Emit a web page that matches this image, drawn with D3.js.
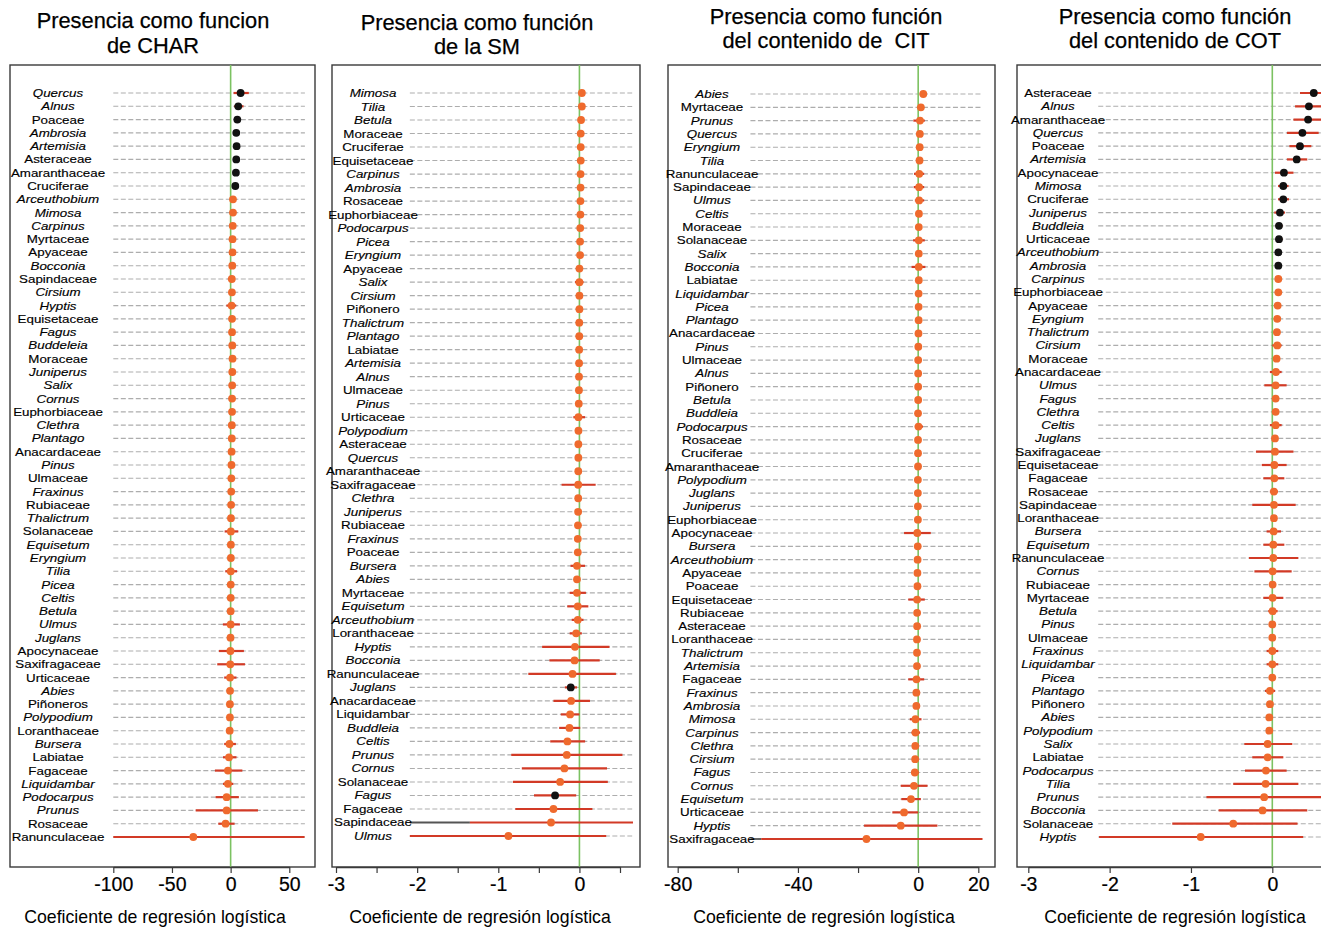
<!DOCTYPE html>
<html>
<head>
<meta charset="utf-8">
<script src="https://cdn.jsdelivr.net/npm/d3@7"></script>
<style>
  html, body { margin: 0; padding: 0; background: #fff; }
  svg { display: block; font-family: "Liberation Sans", Arial, Helvetica, sans-serif; }
  text.title { white-space: pre; }
</style>
</head>
<body>
<svg id="chart" width="1321" height="928"></svg>
<script>
// ---- Panel titles ----
const titleLines = [
  ["Presencia como funcion", "de CHAR"],
  ["Presencia como función", "de la SM"],
  ["Presencia como función", "del contenido de  CIT"],
  ["Presencia como función", "del contenido de COT"]
];
const axisTitle = "Coeficiente de regresión logística";

// ---- CHAR ----
const charTaxa = ["Quercus","Alnus","Poaceae","Ambrosia","Artemisia","Asteraceae","Amaranthaceae","Cruciferae","Arceuthobium","Mimosa","Carpinus","Myrtaceae","Apyaceae","Bocconia","Sapindaceae","Cirsium","Hyptis","Equisetaceae","Fagus","Buddeleia","Moraceae","Juniperus","Salix","Cornus","Euphorbiaceae","Clethra","Plantago","Anacardaceae","Pinus","Ulmaceae","Fraxinus","Rubiaceae","Thalictrum","Solanaceae","Equisetum","Eryngium","Tilia","Picea","Celtis","Betula","Ulmus","Juglans","Apocynaceae","Saxifragaceae","Urticaceae","Abies","Piñoneros","Polypodium","Loranthaceae","Bursera","Labiatae","Fagaceae","Liquidambar","Podocarpus","Prunus","Rosaceae","Ranunculaceae"];
const charEst = [8.5,6.5,5.7,4.8,5.1,4.8,4.5,4.0,2.0,2.0,1.8,1.6,1.6,1.4,1.0,1.1,0.8,1.2,1.2,1.4,1.6,1.4,1.3,1.2,1.2,1.0,1.0,0.8,0.7,0.6,0.5,0.4,0.3,0.2,0.2,0.2,0.1,0.1,0.1,0.0,0.0,-0.1,-0.2,-0.3,-0.5,-0.5,-0.6,-0.6,-0.8,-1.0,-1.4,-2.3,-2.3,-3.4,-3.4,-4.3,-31.8];
const charLo  = [2.5,3.0,3.5,3.0,3.2,3.2,3.0,2.5,0.5,0.5,0.2,0.0,0.0,-0.4,-2.4,-0.7,-3.6,-0.6,-0.6,-0.4,-0.2,-0.4,-0.5,-0.6,-0.6,-0.8,-0.8,-1.0,-1.1,-1.2,-1.3,-1.4,-1.5,-5.1,-1.6,-1.6,-4.6,-1.7,-1.7,-1.8,-6.6,-1.9,-10.0,-11.4,-5.5,-2.3,-2.4,-2.4,-2.6,-5.5,-6.5,-13.4,-6.5,-12.8,-29.8,-10.5,-100];
const charHi  = [15.5,11.0,8.0,6.6,7.0,6.4,6.0,5.5,3.5,3.5,3.4,3.2,3.2,3.0,3.6,2.9,4.8,3.0,3.0,3.2,3.4,3.2,3.1,3.0,3.0,2.8,2.8,2.6,2.5,2.4,2.3,2.2,2.1,6.5,2.0,2.0,5.5,1.9,1.9,1.8,7.9,1.7,11.3,12.2,5.0,1.3,1.2,1.2,1.0,4.5,5.0,10.0,2.3,7.0,23.3,3.4,63];
const charSig = ["Quercus","Alnus","Poaceae","Ambrosia","Artemisia","Asteraceae","Amaranthaceae","Cruciferae"];
const charTicks = [-100,-50,0,50];
const charTickLabels = [-100,-50,0,50];
const charSpan = [-100, 63.3];

// ---- SM ----
const smTaxa = ["Mimosa","Tilia","Betula","Moraceae","Cruciferae","Equisetaceae","Carpinus","Ambrosia","Rosaceae","Euphorbiaceae","Podocarpus","Picea","Eryngium","Apyaceae","Salix","Cirsium","Piñonero","Thalictrum","Plantago","Labiatae","Artemisia","Alnus","Ulmaceae","Pinus","Urticaceae","Polypodium","Asteraceae","Quercus","Amaranthaceae","Saxifragaceae","Clethra","Juniperus","Rubiaceae","Fraxinus","Poaceae","Bursera","Abies","Myrtaceae","Equisetum","Arceuthobium","Loranthaceae","Hyptis","Bocconia","Ranunculaceae","Juglans","Anacardaceae","Liquidambar","Buddleia","Celtis","Prunus","Cornus","Solanaceae","Fagus","Fagaceae","Sapindaceae","Ulmus"];
const smEst = [0.03,0.03,0.02,0.016,0.016,0.016,0.014,0.014,0.012,0.012,0.01,0.008,0.008,0.0,0.0,0.0,0.0,-0.002,-0.002,-0.003,-0.004,-0.005,-0.006,-0.008,-0.012,-0.012,-0.013,-0.013,-0.014,-0.015,-0.015,-0.016,-0.018,-0.02,-0.02,-0.03,-0.03,-0.03,-0.02,-0.02,-0.04,-0.055,-0.06,-0.085,-0.107,-0.103,-0.115,-0.123,-0.148,-0.156,-0.185,-0.238,-0.3,-0.32,-0.35,-0.875];
const smLo  = [0.0,0.0,-0.01,-0.014,-0.014,-0.014,-0.016,-0.016,-0.018,-0.018,-0.02,-0.022,-0.022,-0.03,-0.055,-0.03,-0.03,-0.032,-0.032,-0.033,-0.034,-0.035,-0.036,-0.038,-0.075,-0.042,-0.043,-0.043,-0.044,-0.22,-0.045,-0.046,-0.048,-0.05,-0.05,-0.11,-0.06,-0.12,-0.15,-0.095,-0.12,-0.46,-0.37,-0.63,-0.18,-0.32,-0.23,-0.25,-0.36,-0.84,-0.71,-0.82,-0.56,-0.79,-1.35,-2.09];
const smHi  = [0.06,0.06,0.05,0.046,0.046,0.046,0.044,0.044,0.042,0.042,0.04,0.038,0.038,0.03,0.05,0.03,0.03,0.028,0.028,0.027,0.026,0.025,0.024,0.022,0.07,0.018,0.017,0.017,0.016,0.2,0.015,0.014,0.012,0.01,0.01,0.07,0.0,0.08,0.11,0.05,0.03,0.37,0.25,0.45,-0.03,0.13,0.0,0.01,0.07,0.53,0.34,0.35,-0.04,0.16,0.66,0.33];
const smSig = ["Juglans","Fagus"];
const smTicks = [-3,-2.5,-2,-1.5,-1,-0.5,0,0.5];
const smTickLabels = [-3,-2,-1,0];
const smSpan = [-2.09, 0.65];
const smLead = { taxon: "Sapindaceae", from: -2.09, to: -1.35 };

// ---- CIT ----
const citTaxa = ["Abies","Myrtaceae","Prunus","Quercus","Eryngium","Tilia","Ranunculaceae","Sapindaceae","Ulmus","Celtis","Moraceae","Solanaceae","Salix","Bocconia","Labiatae","Liquidambar","Picea","Plantago","Anacardaceae","Pinus","Ulmaceae","Alnus","Piñonero","Betula","Buddleia","Podocarpus","Rosaceae","Cruciferae","Amaranthaceae","Polypodium","Juglans","Juniperus","Euphorbiaceae","Apocynaceae","Bursera","Arceuthobium","Apyaceae","Poaceae","Equisetaceae","Rubiaceae","Asteraceae","Loranthaceae","Thalictrum","Artemisia","Fagaceae","Fraxinus","Ambrosia","Mimosa","Carpinus","Clethra","Cirsium","Fagus","Cornus","Equisetum","Urticaceae","Hyptis","Saxifragaceae"];
const citEst = [1.7,0.9,0.6,0.55,0.5,0.45,0.35,0.3,0.3,0.25,0.2,0.2,0.2,0.2,0.2,0.15,0.15,0.15,0.1,0.05,0.0,0.0,0.0,0.0,-0.05,0.1,-0.05,-0.05,-0.05,-0.1,-0.1,-0.1,-0.1,-0.3,-0.15,-0.2,-0.25,-0.25,-0.35,-0.35,-0.35,-0.4,-0.4,-0.4,-0.55,-0.6,-0.6,-0.9,-0.9,-0.95,-1.0,-1.1,-1.4,-2.4,-4.7,-5.8,-17.2];
const citLo  = [0.6,-0.1,-1.6,-0.4,-0.5,-0.6,-1.4,-1.5,-1.1,-0.7,-0.8,-1.7,-0.8,-2.2,-0.8,-0.9,-0.9,-0.9,-0.9,-1.0,-1.0,-1.0,-1.0,-1.0,-1.0,-1.1,-1.0,-1.0,-1.0,-1.1,-1.1,-1.1,-1.1,-4.7,-1.2,-1.2,-1.3,-1.3,-3.3,-1.3,-1.3,-1.4,-1.4,-1.4,-3.3,-1.6,-1.6,-2.8,-2.2,-1.9,-2.0,-2.4,-5.8,-5.6,-8.6,-18.0,-52.2];
const citHi  = [2.8,1.9,2.2,1.5,1.5,1.4,2.0,2.0,2.0,1.2,1.2,2.2,1.2,2.4,1.2,1.1,1.1,1.1,1.1,1.0,1.0,1.0,1.0,1.0,0.9,1.6,0.9,0.9,0.9,0.9,0.9,0.9,0.9,4.2,0.8,0.8,0.8,0.8,2.2,0.6,0.6,0.6,0.6,0.6,2.0,0.4,0.4,1.1,0.6,0.0,0.0,0.2,3.1,0.9,0.0,6.4,21.4];
const citSig = [];
const citTicks = [-80,-60,-40,-20,0,20];
const citTickLabels = [-80,-40,0,20];
const citSpan = [-55.8, 21.3];
const citLead = { taxon: "Saxifragaceae", from: -55.8, to: -52.2 };

// ---- COT ----
const cotTaxa = ["Asteraceae","Alnus","Amaranthaceae","Quercus","Poaceae","Artemisia","Apocynaceae","Mimosa","Cruciferae","Juniperus","Buddleia","Urticaceae","Arceuthobium","Ambrosia","Carpinus","Euphorbiaceae","Apyaceae","Eyngium","Thalictrum","Cirsium","Moraceae","Anacardaceae","Ulmus","Fagus","Clethra","Celtis","Juglans","Saxifragaceae","Equisetaceae","Fagaceae","Rosaceae","Sapindaceae","Loranthaceae","Bursera","Equisetum","Ranunculaceae","Cornus","Rubiaceae","Myrtaceae","Betula","Pinus","Ulmaceae","Fraxinus","Liquidambar","Picea","Plantago","Piñonero","Abies","Polypodium","Salix","Labiatae","Podocarpus","Tilia","Prunus","Bocconia","Solanaceae","Hyptis"];
const cotEst = [0.51,0.45,0.44,0.37,0.34,0.30,0.143,0.135,0.135,0.094,0.082,0.082,0.074,0.074,0.074,0.074,0.066,0.061,0.057,0.061,0.053,0.045,0.041,0.041,0.041,0.041,0.033,0.033,0.025,0.025,0.02,0.02,0.02,0.016,0.012,0.012,0.004,0.004,0.004,0.004,0.0,0.0,0.0,0.0,0.0,-0.029,-0.029,-0.037,-0.037,-0.057,-0.057,-0.078,-0.082,-0.10,-0.12,-0.48,-0.88];
const cotLo  = [0.34,0.28,0.26,0.18,0.21,0.18,0.033,0.07,0.07,0.025,0.04,0.04,0.035,0.035,0.04,0.04,0.03,0.02,0.02,0.0,0.02,-0.03,-0.098,0.0,0.005,-0.03,0.0,-0.20,-0.13,-0.11,-0.03,-0.246,-0.01,-0.07,-0.11,-0.287,-0.22,-0.03,-0.11,-0.05,-0.03,-0.03,-0.07,-0.07,-0.03,-0.09,-0.06,-0.07,-0.07,-0.344,-0.246,-0.336,-0.48,-0.81,-0.66,-1.23,-2.13];
const cotHi  = [0.75,0.72,0.68,0.57,0.48,0.43,0.26,0.20,0.205,0.156,0.125,0.125,0.115,0.115,0.11,0.11,0.10,0.10,0.095,0.115,0.09,0.115,0.176,0.08,0.075,0.115,0.065,0.26,0.176,0.148,0.07,0.287,0.05,0.107,0.148,0.32,0.238,0.04,0.135,0.066,0.03,0.03,0.074,0.074,0.03,0.033,0.0,0.0,0.0,0.246,0.135,0.176,0.32,0.62,0.43,0.31,0.38];
const cotSig = ["Asteraceae","Alnus","Amaranthaceae","Quercus","Poaceae","Artemisia","Apocynaceae","Mimosa","Cruciferae","Juniperus","Buddleia","Urticaceae","Arceuthobium","Ambrosia"];
const cotTicks = [-3,-2,-1,0];
const cotTickLabels = [-3,-2,-1,0];
const cotSpan = [-2.14, 0.75];

// Names printed upright even though they are not family names
const uprightGenera = { 1: ["Liquidambar"] };

// ---- Layout of the four panels ----
const panels = [
  { taxa: charTaxa, est: charEst, lo: charLo, hi: charHi, sig: charSig, ticks: charTicks, tickLabels: charTickLabels, span: charSpan, lead: null,
    box: [10, 315], domain: [-100, 50], range: [113.3, 289.3], rows: [93, 837], labelX: 58, titleX: 153, titleY: [21, 46], axisTitleX: 155 },
  { taxa: smTaxa, est: smEst, lo: smLo, hi: smHi, sig: smSig, ticks: smTicks, tickLabels: smTickLabels, span: smSpan, lead: smLead,
    box: [332, 640], domain: [-3, 0.5], range: [336, 620], rows: [93, 836], labelX: 373, titleX: 477, titleY: [23, 47], axisTitleX: 480 },
  { taxa: citTaxa, est: citEst, lo: citLo, hi: citHi, sig: citSig, ticks: citTicks, tickLabels: citTickLabels, span: citSpan, lead: citLead,
    box: [668, 995], domain: [-80, 20], range: [677.7, 978.3], rows: [94, 839], labelX: 712, titleX: 826, titleY: [17, 41], axisTitleX: 824 },
  { taxa: cotTaxa, est: cotEst, lo: cotLo, hi: cotHi, sig: cotSig, ticks: cotTicks, tickLabels: cotTickLabels, span: cotSpan, lead: null,
    box: [1017, 1330], domain: [-3, 0], range: [1028.3, 1272.3], rows: [93, 837], labelX: 1058, titleX: 1175, titleY: [17, 41], axisTitleX: 1175 }
];

const boxTop = 65, boxBottom = 867;
const colors = { orange: "#ef6a2d", black: "#111", ci: "#d23a26", grid: "#adadad", zero: "#7cc262", frame: "#3a3a3a", lead: "#555" };

const svg = d3.select("#chart");

function isGenus(name, panelIndex) {
  if (/ae$/.test(name)) return false;
  if (/^Piñon/.test(name)) return false;
  const up = uprightGenera[panelIndex] || [];
  return !up.includes(name);
}

panels.forEach((p, pi) => {
  const g = svg.append("g");
  const x = d3.scaleLinear().domain(p.domain).range(p.range);
  const y = d3.scalePoint().domain(p.taxa).range(p.rows).padding(0);
  const rows = p.taxa.map((t, i) => ({ taxon: t, est: p.est[i], lo: p.lo[i], hi: p.hi[i], sig: p.sig.includes(t) }));

  // titles
  g.selectAll("text.title").data(titleLines[pi]).join("text")
    .attr("class", "title")
    .attr("x", p.titleX)
    .attr("y", (d, i) => p.titleY[i] + 7)
    .attr("text-anchor", "middle")
    .attr("font-size", 21.8)
    .attr("fill", "#000")
    .attr("stroke", "#000").attr("stroke-width", 0.25)
    .text(d => d);

  // frame
  g.append("rect")
    .attr("x", p.box[0]).attr("y", boxTop)
    .attr("width", p.box[1] - p.box[0]).attr("height", boxBottom - boxTop)
    .attr("fill", "none").attr("stroke", colors.frame).attr("stroke-width", 1.4);

  // dotted guide lines
  g.selectAll("line.guide").data(rows).join("line")
    .attr("class", "guide")
    .attr("x1", x(p.span[0])).attr("x2", x(p.span[1]))
    .attr("y1", d => y(d.taxon)).attr("y2", d => y(d.taxon))
    .attr("stroke", colors.grid).attr("stroke-width", 1.15)
    .attr("stroke-dasharray", "5,2.5");

  // zero reference
  g.append("line")
    .attr("x1", x(0)).attr("x2", x(0))
    .attr("y1", boxTop).attr("y2", boxBottom)
    .attr("stroke", colors.zero).attr("stroke-width", 1.6);

  // dark lead-in segment
  if (p.lead) {
    g.append("line")
      .attr("x1", x(p.lead.from)).attr("x2", x(p.lead.to))
      .attr("y1", y(p.lead.taxon)).attr("y2", y(p.lead.taxon))
      .attr("stroke", colors.lead).attr("stroke-width", 1.8);
  }

  // confidence intervals
  g.selectAll("line.ci").data(rows).join("line")
    .attr("class", "ci")
    .attr("x1", d => x(d.lo)).attr("x2", d => x(d.hi))
    .attr("y1", d => y(d.taxon)).attr("y2", d => y(d.taxon))
    .attr("stroke", colors.ci).attr("stroke-width", 2.2);

  // point estimates
  g.selectAll("circle.est").data(rows).join("circle")
    .attr("class", "est")
    .attr("cx", d => x(d.est)).attr("cy", d => y(d.taxon))
    .attr("r", 3.9)
    .attr("fill", d => d.sig ? colors.black : colors.orange);

  // taxon labels
  g.selectAll("text.taxon").data(rows).join("text")
    .attr("class", "taxon")
    .attr("transform", d => `translate(${p.labelX},${y(d.taxon) + 4}) scale(1.15,1)`)
    .attr("text-anchor", "middle")
    .attr("font-size", 11.6)
    .attr("font-style", d => isGenus(d.taxon, pi) ? "italic" : "normal")
    .attr("fill", "#000")
    .attr("stroke", "#000").attr("stroke-width", 0.15)
    .text(d => d.taxon);

  // x axis
  const axis = d3.axisBottom(x)
    .tickValues(p.ticks)
    .tickSizeInner(6).tickSizeOuter(0).tickPadding(4)
    .tickFormat(d => p.tickLabels.includes(d) ? String(d) : "");
  const ax = g.append("g").attr("transform", `translate(0,${boxBottom})`).call(axis);
  ax.select(".domain").attr("stroke", colors.frame).attr("stroke-width", 1.4);
  ax.selectAll(".tick line").attr("stroke", colors.frame).attr("stroke-width", 1.2);
  ax.selectAll(".tick text")
    .attr("font-size", 19.5)
    .attr("font-family", "'Liberation Sans', Arial, sans-serif")
    .attr("fill", "#000")
    .attr("stroke", "#000").attr("stroke-width", 0.2);

  // axis title
  g.append("text")
    .attr("x", p.axisTitleX).attr("y", 923)
    .attr("text-anchor", "middle")
    .attr("font-size", 17.7)
    .attr("fill", "#000")
    .text(axisTitle);
});
</script>
</body>
</html>
